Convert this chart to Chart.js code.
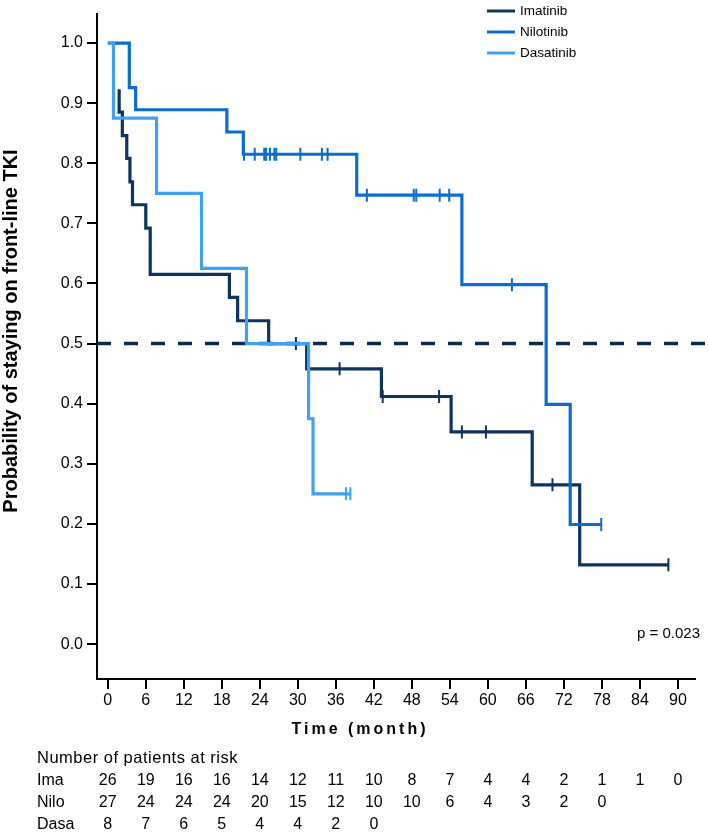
<!DOCTYPE html>
<html><head><meta charset="utf-8">
<script src="https://cdn.jsdelivr.net/npm/chart.js@4.4.1/dist/chart.umd.min.js"></script>
<style>html,body{margin:0;padding:0;background:#fff}#wrap{width:708px;height:832px;position:relative}</style>
</head><body><div id="wrap"><canvas id="c"></canvas></div>
<script>
// ---- data ----
const seriesNames = ['Imatinib', 'Nilotinib', 'Dasatinib'];
const rowLabels = ['Ima', 'Nilo', 'Dasa'];

const imaTimes  = [1.8, 1.8, 2.3, 3.0, 3.5, 3.9, 6.0, 6.7, 19.2, 20.5, 25.4, 31.4, 43.2, 54.2, 67.0, 74.5, 88.5];
const imaSurv   = [0.923, 0.885, 0.846, 0.808, 0.769, 0.731, 0.692, 0.615, 0.577, 0.538, 0.500, 0.458, 0.412, 0.353, 0.265, 0.132, 0.132];
const imaCensT  = [29.7, 36.6, 43.4, 52.3, 55.9, 59.7, 70.2, 88.5];
const imaCensS  = [0.500, 0.458, 0.412, 0.412, 0.353, 0.353, 0.265, 0.132];

const niloTimes = [0, 3.4, 4.4, 18.8, 21.4, 39.3, 55.9, 69.2, 73.0, 77.9];
const niloSurv  = [1.0, 0.926, 0.889, 0.852, 0.815, 0.747, 0.598, 0.399, 0.199, 0.199];
const niloCensT = [21.5, 23.2, 24.7, 25.0, 25.6, 26.3, 26.6, 30.4, 33.8, 34.7, 40.9, 48.3, 48.7, 52.4, 53.9, 63.8, 77.9];
const niloCensS = [0.815, 0.815, 0.815, 0.815, 0.815, 0.815, 0.815, 0.815, 0.815, 0.815, 0.747, 0.747, 0.747, 0.747, 0.747, 0.598, 0.199];

const dasaTimes = [0, 0.9, 7.7, 14.8, 21.9, 31.7, 32.4, 38.3];
const dasaSurv  = [1.0, 0.875, 0.750, 0.625, 0.500, 0.375, 0.250, 0.250];
const dasaCensT = [37.6, 38.3];
const dasaCensS = [0.250, 0.250];

const xTicks = [0, 6, 12, 18, 24, 30, 36, 42, 48, 54, 60, 66, 72, 78, 84, 90];
const yTicks = [0, 0.1, 0.2, 0.3, 0.4, 0.5, 0.6, 0.7, 0.8, 0.9, 1.0];

const riskTitle = 'Number of patients at risk';
const riskIma  = [26, 19, 16, 16, 14, 12, 11, 10, 8, 7, 4, 4, 2, 1, 1, 0];
const riskNilo = [27, 24, 24, 24, 20, 15, 12, 10, 10, 6, 4, 3, 2, 0];
const riskDasa = [8, 7, 6, 5, 4, 4, 2, 0];

const medianLevel = 0.5;
const pValueText = 'p = 0.023';
const xTitle = 'Time (month)';
const yTitle = 'Probability of staying on front-line TKI';

// ---- styles ----
const COL = { ima: '#0d3360', nilo: '#0b6cce', dasa: '#3fa1f1', dash: '#0c2a52' };
const FONT = "'Liberation Sans', Arial, sans-serif";
const X_MIN = -1.7, X_MAX = 92.7, Y_MIN = -0.058, Y_MAX = 1.049, DASH_END = 94.8;

const pts = (t, s) => t.map((v, i) => ({ x: v, y: s[i] }));

function kmSet(label, t, s, color, order) {
  return { type: 'line', label, data: pts(t, s), borderColor: color, backgroundColor: color,
    borderWidth: 3.2, stepped: true, pointRadius: 0, fill: false, order, isKM: true };
}
function censSet(t, s, color, order) {
  return { type: 'line', label: '', data: pts(t, s), showLine: false, borderColor: color,
    backgroundColor: color, pointStyle: 'line', pointRotation: 90, pointRadius: 6.5,
    pointBorderWidth: 2, pointBorderColor: color, order };
}

const plugin = {
  id: 'extras',
  afterDraw(chart) {
    const ctx = chart.ctx;
    const xs = chart.scales.x;
    ctx.save();
    // legend
    const km = chart.data.datasets.filter(d => d.isKM);
    const order = seriesNames.map(n => km.find(d => d.label === n));
    order.forEach((d, i) => {
      const y = 11 + i * 21;
      ctx.strokeStyle = d.borderColor; ctx.lineWidth = 3;
      ctx.beginPath(); ctx.moveTo(487, y); ctx.lineTo(515, y); ctx.stroke();
      ctx.fillStyle = '#000'; ctx.font = '13.5px ' + FONT;
      ctx.textAlign = 'left'; ctx.textBaseline = 'middle';
      ctx.fillText(d.label, 520, y);
    });
    // p value
    ctx.font = '15px ' + FONT; ctx.fillStyle = '#000';
    ctx.textAlign = 'left'; ctx.textBaseline = 'middle';
    ctx.fillText(pValueText, 637, 634);
    // x title
    ctx.font = 'bold 16px ' + FONT;
    try { ctx.letterSpacing = '3px'; } catch (e) {}
    ctx.textAlign = 'center';
    ctx.fillText(xTitle, 360, 730);
    try { ctx.letterSpacing = '0px'; } catch (e) {}
    // y title
    ctx.save();
    ctx.translate(11, 331); ctx.rotate(-Math.PI / 2);
    ctx.font = 'bold 20px ' + FONT; ctx.textAlign = 'center'; ctx.textBaseline = 'middle';
    ctx.fillText(yTitle, 0, 0);
    ctx.restore();
    // risk table
    ctx.textAlign = 'left'; ctx.textBaseline = 'middle';
    ctx.font = '16.5px ' + FONT;
    try { ctx.letterSpacing = '0.5px'; } catch (e) {}
    ctx.fillText(riskTitle, 37, 758);
    try { ctx.letterSpacing = '0px'; } catch (e) {}
    ctx.font = '16px ' + FONT;
    const rows = [riskIma, riskNilo, riskDasa];
    rows.forEach((r, i) => {
      const y = 781 + i * 22;
      ctx.textAlign = 'left';
      ctx.fillText(rowLabels[i], 37, y);
      ctx.textAlign = 'center';
      r.forEach((n, j) => ctx.fillText(String(n), xs.getPixelForValue(xTicks[j]), y));
    });
    ctx.restore();
  }
};

new Chart(document.getElementById('c'), {
  data: {
    datasets: [
      censSet(dasaCensT, dasaCensS, COL.dasa, 0),
      kmSet(seriesNames[2], dasaTimes, dasaSurv, COL.dasa, 1),
      { type: 'line', label: 'median', data: [{ x: X_MIN, y: medianLevel }, { x: DASH_END, y: medianLevel }],
        borderColor: COL.dash, borderWidth: 3.5, borderDash: [14, 13], pointRadius: 0, clip: false, order: 2 },
      censSet(niloCensT, niloCensS, COL.nilo, 3),
      kmSet(seriesNames[1], niloTimes, niloSurv, COL.nilo, 4),
      censSet(imaCensT, imaCensS, COL.ima, 5),
      kmSet(seriesNames[0], imaTimes, imaSurv, COL.ima, 6)
    ]
  },
  options: {
    responsive: true, maintainAspectRatio: false, animation: false,
    layout: { padding: { left: 0, right: 13, top: 0, bottom: 93 } },
    plugins: { legend: { display: false }, tooltip: { enabled: false } },
    events: [],
    scales: {
      x: {
        type: 'linear', min: X_MIN, max: X_MAX,
        afterBuildTicks: s => { s.ticks = xTicks.map(v => ({ value: v })); },
        afterFit: s => { s.height = 60; },
        ticks: { color: '#000', font: { family: FONT, size: 16 }, padding: 2, maxRotation: 0, autoSkip: false },
        grid: { drawOnChartArea: false, drawTicks: true, tickLength: 10, color: '#000', lineWidth: 2 },
        border: { display: true, color: '#000', width: 2 },
        title: { display: false }
      },
      y: {
        type: 'linear', min: Y_MIN, max: Y_MAX,
        afterBuildTicks: s => { s.ticks = yTicks.map(v => ({ value: v })); },
        afterFit: s => { s.width = 97; },
        ticks: { color: '#000', font: { family: FONT, size: 16 }, padding: 4, callback: v => Number(v).toFixed(1) },
        grid: { drawOnChartArea: false, drawTicks: true, tickLength: 10, color: '#000', lineWidth: 2 },
        border: { display: true, color: '#000', width: 2 },
        title: { display: false }
      }
    }
  },
  plugins: [plugin]
});
</script>
</body></html>
